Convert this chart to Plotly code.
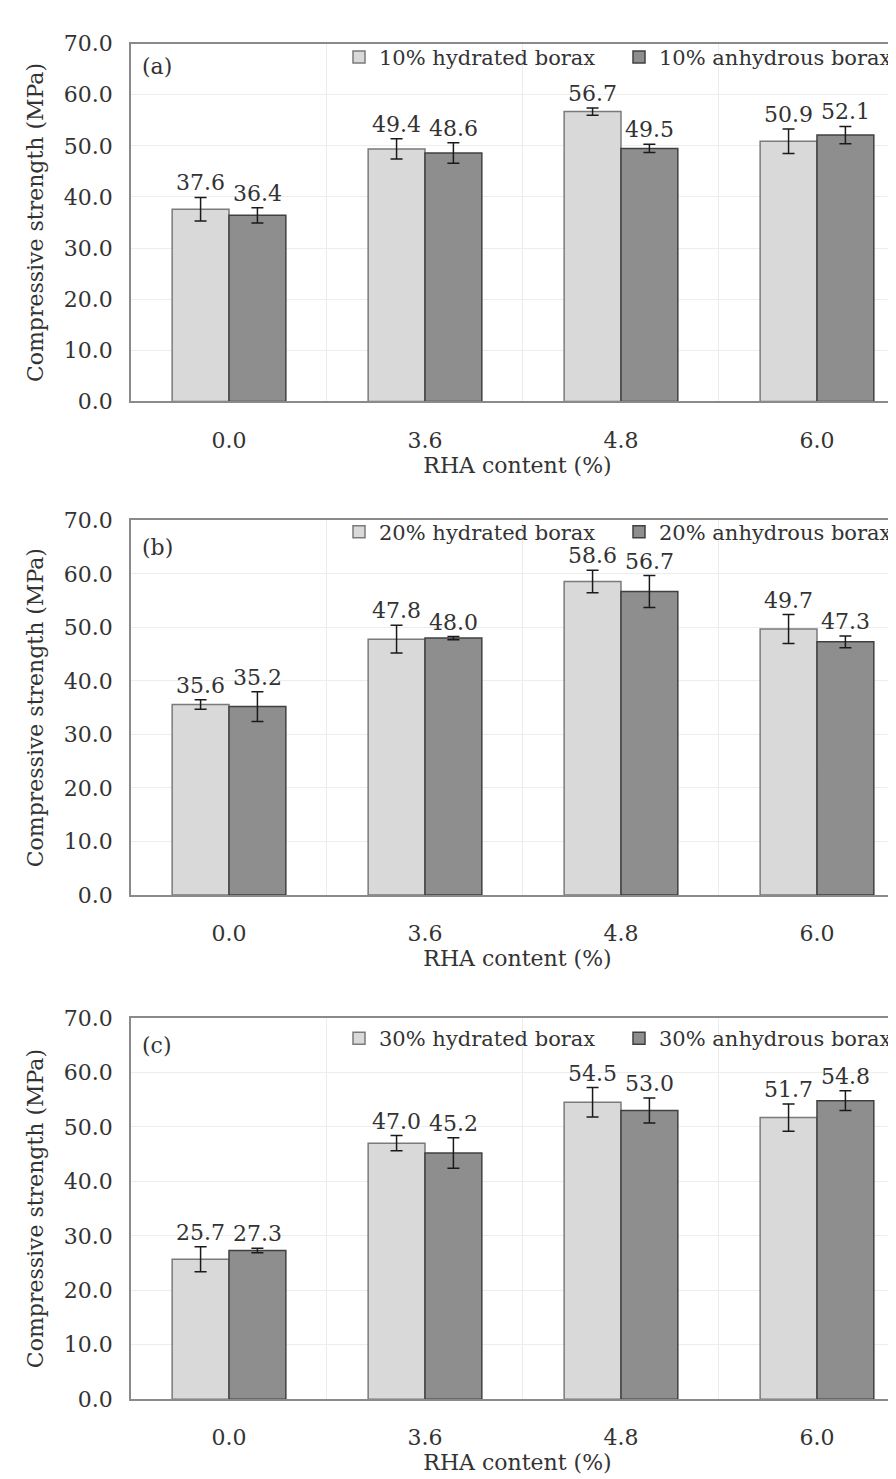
import plotly.graph_objects as go

# ---------------- data ----------------
rha_labels = ["0.0", "3.6", "4.8", "6.0"]

hydrated_10 = [37.6, 49.4, 56.7, 50.9]
hydrated_10_err = [2.3, 2.0, 0.7, 2.4]
anhydrous_10 = [36.4, 48.6, 49.5, 52.1]
anhydrous_10_err = [1.5, 2.0, 0.8, 1.7]

hydrated_20 = [35.6, 47.8, 58.6, 49.7]
hydrated_20_err = [0.9, 2.6, 2.1, 2.7]
anhydrous_20 = [35.2, 48.0, 56.7, 47.3]
anhydrous_20_err = [2.8, 0.3, 3.0, 1.1]

hydrated_30 = [25.7, 47.0, 54.5, 51.7]
hydrated_30_err = [2.3, 1.4, 2.7, 2.5]
anhydrous_30 = [27.3, 45.2, 53.0, 54.8]
anhydrous_30_err = [0.4, 2.8, 2.3, 1.8]

panel_tags = ["(a)", "(b)", "(c)"]
borax_pcts = ["10%", "20%", "30%"]

# ---------------- layout constants ----------------
W, H = 896, 1479
FONT = "DejaVu Serif"
TXT = "#333333"
FS = 22
LFS = 21
# plot areas in pixels: (top = 70, bottom = 0)
panel_px = [(24, 388), (509, 890), (1015, 1403)]
legend_py = [38, 521, 1036]
tag_py = [47, 537, 1043]
x_left_px = 123
BAR_W = 0.29

series = [
    (hydrated_10, hydrated_10_err, anhydrous_10, anhydrous_10_err),
    (hydrated_20, hydrated_20_err, anhydrous_20, anhydrous_20_err),
    (hydrated_30, hydrated_30_err, anhydrous_30, anhydrous_30_err),
]

xpos = list(range(len(rha_labels)))

fig = go.Figure()
annotations = []
layout_upd = {}

for k, (hyd, hyd_e, anh, anh_e) in enumerate(series):
    idx = "" if k == 0 else str(k + 1)
    xa, ya = "x" + idx, "y" + idx
    leg = "legend" + idx
    pct = borax_pcts[k]
    fig.add_trace(go.Bar(
        x=xpos, y=hyd, name=f"{pct} hydrated borax",
        marker=dict(color="#d9d9d9", line=dict(color="#7a7a7a", width=1.5)),
        error_y=dict(type="data", array=hyd_e, color="#1a1a1a", thickness=1.5, width=6),
        xaxis=xa, yaxis=ya, legend=leg))
    fig.add_trace(go.Bar(
        x=xpos, y=anh, name=f"{pct} anhydrous borax",
        marker=dict(color="#8e8e8e", line=dict(color="#404040", width=1.5)),
        error_y=dict(type="data", array=anh_e, color="#1a1a1a", thickness=1.5, width=6),
        xaxis=xa, yaxis=ya, legend=leg))

    top, bot = panel_px[k]
    ydom = [1 - bot / H, 1 - top / H]
    layout_upd["xaxis" + idx] = dict(
        domain=[x_left_px / W, 1], range=[-0.5, 3.444], anchor=ya,
        tickvals=xpos, ticktext=rha_labels, showgrid=False,
        minor=dict(tickvals=[0.5, 1.5, 2.5], showgrid=True, gridcolor="#ececec", gridwidth=1),
        showline=True, linecolor="#8a8a8a", linewidth=1.5, mirror=True,
        ticks="", ticklabelstandoff=18, zeroline=False,
        tickfont=dict(family=FONT, size=FS, color=TXT),
        title=dict(text="RHA content (%)", font=dict(family=FONT, size=FS, color=TXT), standoff=1),
    )
    layout_upd["yaxis" + idx] = dict(
        domain=ydom, range=[0, 70], anchor=xa, dtick=10, tickformat=".1f",
        showgrid=True, gridcolor="#ededed", gridwidth=1, zeroline=False,
        showline=True, linecolor="#8a8a8a", linewidth=1.5,
        ticks="", ticklabelstandoff=12,
        tickfont=dict(family=FONT, size=FS, color=TXT),
        title=dict(text="Compressive strength (MPa)", font=dict(family=FONT, size=FS, color=TXT), standoff=14),
    )
    layout_upd[leg] = dict(
        orientation="h", x=331 / W, y=1 - legend_py[k] / H, xanchor="left", yanchor="middle",
        xref="paper", yref="paper", bgcolor="rgba(0,0,0,0)", borderwidth=0,
        font=dict(family=FONT, size=LFS, color=TXT), entrywidth=235, itemwidth=30,
        traceorder="normal",
    )
    annotations.append(dict(
        text=panel_tags[k], x=149 / W, y=1 - tag_py[k] / H, xref="paper", yref="paper",
        showarrow=False, font=dict(family=FONT, size=FS, color=TXT), xanchor="center", yanchor="middle"))
    # value labels above error bars
    for vals, errs, off in ((hyd, hyd_e, -BAR_W / 2), (anh, anh_e, BAR_W / 2)):
        for i, (v, e) in enumerate(zip(vals, errs)):
            annotations.append(dict(
                text=f"{v:.1f}", x=xpos[i] + off, y=v + e, xref=xa, yref=ya,
                showarrow=False, yanchor="bottom", xanchor="center", yshift=0,
                font=dict(family=FONT, size=FS, color=TXT)))

fig.update_layout(
    width=W, height=H, margin=dict(l=0, r=0, t=0, b=0),
    paper_bgcolor="white", plot_bgcolor="white",
    barmode="group", bargap=0.42, bargroupgap=0,
    annotations=annotations, showlegend=True,
    **layout_upd,
)

fig.write_html("out.html")
